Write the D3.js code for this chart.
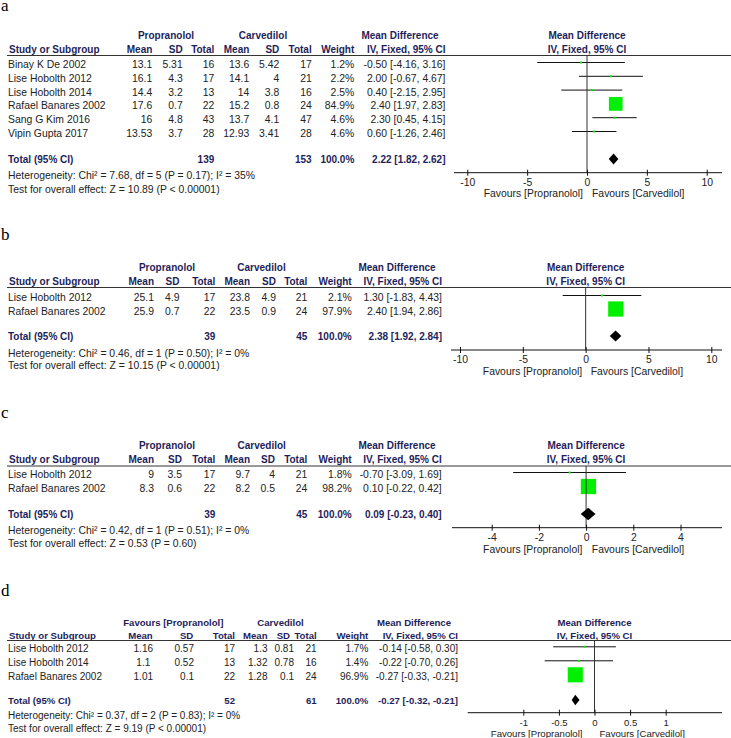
<!DOCTYPE html>
<html>
<head>
<meta charset="utf-8">
<script src="https://cdn.jsdelivr.net/npm/d3@7"></script>
<style>
  body { margin: 0; background: #fff; }
  text { font-family: "Liberation Sans", Arial, sans-serif; }
</style>
</head>
<body>
<div id="chart"></div>
<script>
// panel a
const studiesA = ["Binay K De 2002", "Lise Hobolth 2012", "Lise Hobolth 2014", "Rafael Banares 2002", "Sang G Kim 2016", "Vipin Gupta 2017"];
const propMeanA = [13.1, 16.1, 14.4, 17.6, 16, 13.53];
const propSdA = [5.31, 4.3, 3.2, 0.7, 4.8, 3.7];
const propNA = [16, 17, 13, 22, 43, 28];
const carvMeanA = [13.6, 14.1, 14, 15.2, 13.7, 12.93];
const carvSdA = [5.42, 4, 3.8, 0.8, 4.1, 3.41];
const carvNA = [17, 21, 16, 24, 47, 28];
const weightA = [1.2, 2.2, 2.5, 84.9, 4.6, 4.6];
const mdA = [-0.50, 2.00, 0.40, 2.40, 2.30, 0.60];
const loA = [-4.16, -0.67, -2.15, 1.97, 0.45, -1.26];
const hiA = [3.16, 4.67, 2.95, 2.83, 4.15, 2.46];
const totalA = [139, 153, 2.22, 1.82, 2.62];
const hetA = "Heterogeneity: Chi² = 7.68, df = 5 (P = 0.17); I² = 35%";
const testA = "Test for overall effect: Z = 10.89 (P < 0.00001)";
const ticksA = [-10, -5, 0, 5, 10];

// panel b
const studiesB = ["Lise Hobolth 2012", "Rafael Banares 2002"];
const propMeanB = [25.1, 25.9];
const propSdB = [4.9, 0.7];
const propNB = [17, 22];
const carvMeanB = [23.8, 23.5];
const carvSdB = [4.9, 0.9];
const carvNB = [21, 24];
const weightB = [2.1, 97.9];
const mdB = [1.30, 2.40];
const loB = [-1.83, 1.94];
const hiB = [4.43, 2.86];
const totalB = [39, 45, 2.38, 1.92, 2.84];
const hetB = "Heterogeneity: Chi² = 0.46, df = 1 (P = 0.50); I² = 0%";
const testB = "Test for overall effect: Z = 10.15 (P < 0.00001)";
const ticksB = [-10, -5, 0, 5, 10];

// panel c
const studiesC = ["Lise Hobolth 2012", "Rafael Banares 2002"];
const propMeanC = [9, 8.3];
const propSdC = [3.5, 0.6];
const propNC = [17, 22];
const carvMeanC = [9.7, 8.2];
const carvSdC = [4, 0.5];
const carvNC = [21, 24];
const weightC = [1.8, 98.2];
const mdC = [-0.70, 0.10];
const loC = [-3.09, -0.22];
const hiC = [1.69, 0.42];
const totalC = [39, 45, 0.09, -0.23, 0.40];
const hetC = "Heterogeneity: Chi² = 0.42, df = 1 (P = 0.51); I² = 0%";
const testC = "Test for overall effect: Z = 0.53 (P = 0.60)";
const ticksC = [-4, -2, 0, 2, 4];

// panel d
const studiesD = ["Lise Hobolth 2012", "Lise Hobolth 2014", "Rafael Banares 2002"];
const propMeanD = [1.16, 1.1, 1.01];
const propSdD = [0.57, 0.52, 0.1];
const propND = [17, 13, 22];
const carvMeanD = [1.3, 1.32, 1.28];
const carvSdD = [0.81, 0.78, 0.1];
const carvND = [21, 16, 24];
const weightD = [1.7, 1.4, 96.9];
const mdD = [-0.14, -0.22, -0.27];
const loD = [-0.58, -0.70, -0.33];
const hiD = [0.30, 0.26, -0.21];
const totalD = [52, 61, -0.27, -0.32, -0.21];
const hetD = "Heterogeneity: Chi² = 0.37, df = 2 (P = 0.83); I² = 0%";
const testD = "Test for overall effect: Z = 9.19 (P < 0.00001)";
const ticksD = [-1, -0.5, 0, 0.5, 1];

const navy = "#1e1e5a";
const ink = "#222";
const green = "#00f000";

// layout of each panel (pixel positions)
const panels = [
  {letter: "a", group1: "Propranolol", studies: studiesA, pm: propMeanA, psd: propSdA, pn: propNA,
   cm: carvMeanA, csd: carvSdA, cn: carvNA, w: weightA, md: mdA, lo: loA, hi: hiA, total: totalA,
   het: hetA, test: testA, ticks: ticksA, domain: [-10, 10], range: [467.3, 706.7], ext: [454, 722],
   y: {letter: 10.5, h1: 39, h2: 53, line: 55.5, row0: 68, step: 13.8, total: 163, het: 179, test: 193.3, axis: 172.7, fav: 197},
   col: {pm: 152.3, psd: 182.7, pt: 214.3, cm: 249.3, csd: 279.3, ct: 311.7, w: 354.3, md: 445.5},
   g1: {prop: 166, carv: 263, md: 400}, fav: [4, 5], fs: [10, 10.4, 10.4], dia: 11},
  {letter: "b", group1: "Propranolol", studies: studiesB, pm: propMeanB, psd: propSdB, pn: propNB,
   cm: carvMeanB, csd: carvSdB, cn: carvNB, w: weightB, md: mdB, lo: loB, hi: hiB, total: totalB,
   het: hetB, test: testB, ticks: ticksB, domain: [-10, 10], range: [460, 711.3], ext: [451, 722],
   y: {letter: 240, h1: 271, h2: 285, line: 287.5, row0: 301, step: 13.5, total: 340, het: 356.7, test: 369, axis: 350, fav: 375},
   col: {pm: 154, psd: 179.5, pt: 215.3, cm: 250, csd: 276, ct: 307.3, w: 351.7, md: 442},
   g1: {prop: 167, carv: 261.5, md: 397}, fav: [3.5, 5], fs: [10, 10.4, 10.4], dia: 11},
  {letter: "c", group1: "Propranolol", studies: studiesC, pm: propMeanC, psd: propSdC, pn: propNC,
   cm: carvMeanC, csd: carvSdC, cn: carvNC, w: weightC, md: mdC, lo: loC, hi: hiC, total: totalC,
   het: hetC, test: testC, ticks: ticksC, domain: [-4, 4], range: [491.7, 680.5], ext: [452, 722],
   y: {letter: 418, h1: 449, h2: 463, line: 466, row0: 478, step: 14, total: 518, het: 534, test: 546.5, axis: 527.7, fav: 553},
   col: {pm: 154, psd: 182, pt: 215.3, cm: 250, csd: 275, ct: 307.3, w: 351.7, md: 441.7},
   g1: {prop: 167, carv: 261.7, md: 397}, fav: [3.7, 5.7], fs: [10, 10.4, 10.4], dia: 12.5},
  {letter: "d", group1: "Favours [Propranolol]", studies: studiesD, pm: propMeanD, psd: propSdD, pn: propND,
   cm: carvMeanD, csd: carvSdD, cn: carvND, w: weightD, md: mdD, lo: loD, hi: hiD, total: totalD,
   het: hetD, test: testD, ticks: ticksD, domain: [-1, 1], range: [523.3, 665.7], ext: [467.7, 722],
   y: {letter: 596, h1: 626, h2: 639, line: 640.5, row0: 652.3, step: 14, total: 704, het: 719, test: 732, axis: 712.7, fav: 737},
   col: {pm: 143.3, psd: 194, pt: 235, cm: 267.5, csd: 294, ct: 316.7, w: 368.3, md: 458},
   head: {pm: 152.7, psd: 193.3, csd: 290},
   g1: {prop: 173.3, carv: 280.5, md: 414}, pmCenter: true, fav: [12, 5], fs: [9.6, 10, 9.6], dia: 10.5}
];

const sizeScale = d3.scalePow().exponent(0.75).domain([0, 100]).range([0, 15.5]);

const svg = d3.select("#chart").append("svg")
  .attr("width", 731)
  .attr("height", 738);

function ciText(m, l, h) {
  return `${m.toFixed(2)} [${l.toFixed(2)}, ${h.toFixed(2)}]`;
}

panels.forEach(p => {
  const g = svg.append("g");
  const x = d3.scaleLinear().domain(p.domain).range(p.range);
  const head = Object.assign({}, p.col, p.head || {});
  const bold = p.fs[0] + "px", reg = p.fs[1] + "px", small = p.fs[2] + "px";

  g.append("text")
    .attr("x", 1).attr("y", p.y.letter)
    .style("font-family", "'Liberation Serif', 'Times New Roman', serif")
    .style("font-size", "17px")
    .text(p.letter);

  // header row 1
  const h1 = [
    [p.group1, p.g1.prop], ["Carvedilol", p.g1.carv],
    ["Mean Difference", p.g1.md], ["Mean Difference", x(0)]
  ];
  g.selectAll(".h1").data(h1).enter().append("text")
    .attr("x", d => d[1]).attr("y", p.y.h1)
    .attr("text-anchor", "middle")
    .attr("fill", navy).style("font-weight", "bold").style("font-size", bold)
    .text(d => d[0]);

  // header row 2
  const h2 = [
    ["Mean", head.pm], ["SD", head.psd], ["Total", head.pt],
    ["Mean", head.cm], ["SD", head.csd], ["Total", head.ct],
    ["Weight", head.w], ["IV, Fixed, 95% CI", head.md]
  ];
  g.selectAll(".h2").data(h2).enter().append("text")
    .attr("x", d => d[1]).attr("y", p.y.h2)
    .attr("text-anchor", "end")
    .attr("fill", navy).style("font-weight", "bold").style("font-size", bold)
    .text(d => d[0]);
  g.append("text")
    .attr("x", 9).attr("y", p.y.h2)
    .attr("fill", navy).style("font-weight", "bold").style("font-size", bold)
    .text("Study or Subgroup");
  g.append("text")
    .attr("x", x(0)).attr("y", p.y.h2)
    .attr("text-anchor", "middle")
    .attr("fill", navy).style("font-weight", "bold").style("font-size", bold)
    .text("IV, Fixed, 95% CI");

  g.append("line")
    .attr("x1", 7).attr("x2", 731)
    .attr("y1", p.y.line).attr("y2", p.y.line)
    .attr("stroke", "#333").attr("stroke-width", 1);

  // study rows
  const rows = p.studies.map((s, i) => ({
    name: s, pm: p.pm[i], psd: p.psd[i], pn: p.pn[i], cm: p.cm[i], csd: p.csd[i], cn: p.cn[i],
    w: p.w[i], md: p.md[i], lo: p.lo[i], hi: p.hi[i], y: p.y.row0 + i * p.y.step
  }));

  const cells = [
    ["pm", d => String(d.pm)], ["psd", d => String(d.psd)], ["pt", d => String(d.pn)],
    ["cm", d => String(d.cm)], ["csd", d => String(d.csd)], ["ct", d => String(d.cn)],
    ["w", d => d.w.toFixed(1) + "%"], ["md", d => ciText(d.md, d.lo, d.hi)]
  ];

  const row = g.selectAll(".row").data(rows).enter().append("g").attr("class", "row");
  row.append("text")
    .attr("x", 8).attr("y", d => d.y)
    .attr("fill", ink).style("font-size", reg)
    .text(d => d.name);
  cells.forEach(c => {
    const centered = c[0] === "pm" && p.pmCenter;
    row.append("text")
      .attr("x", p.col[c[0]]).attr("y", d => d.y)
      .attr("text-anchor", centered ? "middle" : "end")
      .attr("fill", ink).style("font-size", reg)
      .text(c[1]);
  });

  // zero line
  g.append("line")
    .attr("x1", x(0)).attr("x2", x(0))
    .attr("y1", p.y.line).attr("y2", p.y.axis)
    .attr("stroke", "#333").attr("stroke-width", 1);

  // CI lines and squares
  row.append("line")
    .attr("x1", d => x(d.lo)).attr("x2", d => x(d.hi))
    .attr("y1", d => d.y - 5.5).attr("y2", d => d.y - 5.5)
    .attr("stroke", "#111").attr("stroke-width", 1);
  row.append("rect")
    .attr("x", d => x(d.md) - Math.max(2, sizeScale(d.w)) / 2)
    .attr("y", d => d.y - 5.5 - Math.max(2, sizeScale(d.w)) / 2)
    .attr("width", d => Math.max(2, sizeScale(d.w)))
    .attr("height", d => Math.max(2, sizeScale(d.w)))
    .attr("fill", green);

  // total row
  const t = p.total;
  const totals = [
    [String(t[0]), p.col.pt], [String(t[1]), p.col.ct],
    ["100.0%", p.col.w], [ciText(t[2], t[3], t[4]), p.col.md]
  ];
  g.selectAll(".tot").data(totals).enter().append("text")
    .attr("x", d => d[1]).attr("y", p.y.total)
    .attr("text-anchor", "end")
    .attr("fill", navy).style("font-weight", "bold").style("font-size", bold)
    .text(d => d[0]);
  g.append("text")
    .attr("x", 8).attr("y", p.y.total)
    .attr("fill", navy).style("font-weight", "bold").style("font-size", bold)
    .text("Total (95% CI)");

  const dy = p.y.total - 4, hd = p.dia / 2;
  g.append("path")
    .attr("d", `M${x(t[3])},${dy} L${x(t[2])},${dy - hd} L${x(t[4])},${dy} L${x(t[2])},${dy + hd} Z`)
    .attr("fill", "#000");

  g.append("text")
    .attr("x", 8).attr("y", p.y.het)
    .attr("fill", ink).style("font-size", reg)
    .text(p.het);
  g.append("text")
    .attr("x", 8).attr("y", p.y.test)
    .attr("fill", ink).style("font-size", reg)
    .text(p.test);

  // axis
  g.append("line")
    .attr("x1", p.ext[0]).attr("x2", p.ext[1])
    .attr("y1", p.y.axis).attr("y2", p.y.axis)
    .attr("stroke", "#111").attr("stroke-width", 1);

  const ax = g.append("g")
    .attr("transform", `translate(0, ${p.y.axis})`)
    .call(d3.axisBottom(x).tickValues(p.ticks).tickSize(3).tickFormat(d => String(d)));
  ax.select(".domain").remove();
  ax.selectAll(".tick line").attr("y1", -3).attr("y2", 3).attr("stroke", "#111");
  ax.selectAll(".tick text")
    .attr("y", 13).attr("dy", 0)
    .attr("fill", ink)
    .style("font-size", small)
    .style("font-family", "'Liberation Sans', Arial, sans-serif");

  g.append("text")
    .attr("x", x(0) - p.fav[0]).attr("y", p.y.fav)
    .attr("text-anchor", "end")
    .attr("fill", ink).style("font-size", small)
    .text("Favours [Propranolol]");
  g.append("text")
    .attr("x", x(0) + p.fav[1]).attr("y", p.y.fav)
    .attr("fill", ink).style("font-size", small)
    .text("Favours [Carvedilol]");
});
</script>
</body>
</html>
